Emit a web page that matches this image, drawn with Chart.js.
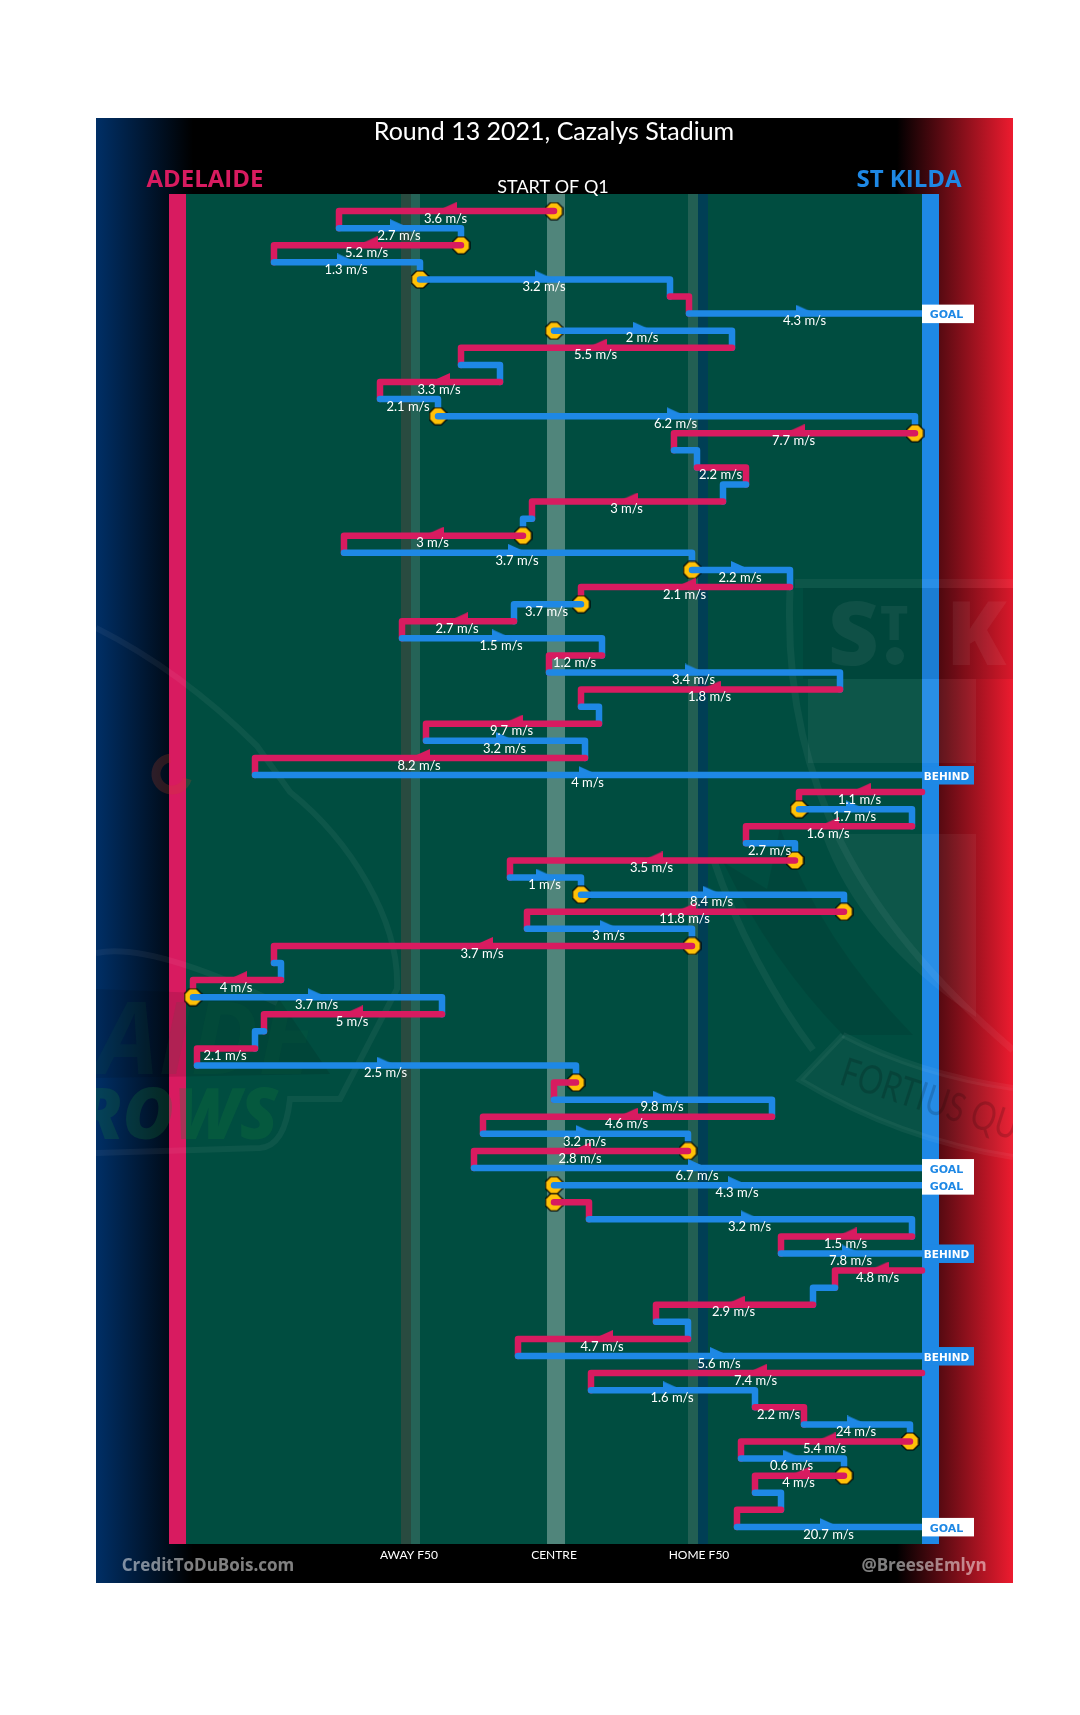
<!DOCTYPE html>
<html>
<head>
<meta charset="utf-8">
<title>Round 13 2021, Cazalys Stadium</title>
<script src="https://cdn.jsdelivr.net/npm/chart.js@4"></script>
<style>
  html, body { margin: 0; padding: 0; background: #fff; }
  canvas { display: block; }
</style>
</head>
<body>
<canvas id="chain" width="1080" height="1715"></canvas>
<script>
// one entry per row of the chain, top to bottom. x is field position, 0 = left edge of left goal bar
const rowTeam = ['A','S','A','S','S','A','S','S','A','S','A','S','S','A','S','A','S','A','S','A',
                 'S','S','A','S','A','S','A','S','A','S','A','S','A','S','A','S','A','S','A','S',
                 'S','A','S','A','S','A','S','A','S','A','S','A','S','A','S','A','S','S','A','S',
                 'A','S','A','S','A','S','A','S','A','S','A','S','A','S','A','S','A','S'];
const rowFrom = [385,170,292,105,251,501,520,385,563,292,331,211,269,746,505,528,577,554,363,354,
                 175,523,621,412,345,233,433,380,671,412,430,257,416, 86,753,630,743,577,626,341,
                 412,675,358,523,105,112, 24,273, 95, 86, 28,407,385,603,314,519,305,385,385,420,
                 743,612,753,666,644,487,519,349,753,422,586,635,741,572,675,586,612,568];
const rowTo   = [170,292,105,251,501,520,753,563,292,331,211,269,746,505,528,577,554,363,354,175,
                 523,621,412,345,233,433,380,671,412,430,257,416, 86,753,630,743,577,626,341,412,
                 675,358,523,105,112, 24,273, 95, 86, 28,407,385,603,314,519,305,753,753,420,743,
                 612,753,666,644,487,519,349,753,422,586,635,741,572,675,586,612,568,753];
const rowSpeed = [3.6,2.7,5.2,1.3,3.2,null,4.3,2,5.5,null,3.3,2.1,6.2,7.7,null,2.2,null,3,null,3,
                  3.7,2.2,2.1,3.7,2.7,1.5,1.2,3.4,1.8,null,9.7,3.2,8.2,4,1.1,1.7,1.6,2.7,3.5,1,
                  8.4,11.8,3,3.7,null,4,3.7,5,null,2.1,2.5,null,9.8,4.6,3.2,2.8,6.7,4.3,null,3.2,
                  1.5,7.8,4.8,null,2.9,null,4.7,5.6,7.4,1.6,2.2,24,5.4,0.6,4,null,null,20.7];

// rows that start from a stoppage (yellow marker)
const stoppageRows = [0,2,4,7,12,13,19,21,23,35,38,40,41,43,46,51,55,57,58,72,74];
// rows that end in a score, the chain does not link down from these
const goalRows   = [6,56,57,77];
const behindRows = [33,61,67];

const tickValues = [240,385,530];
const tickLabels = ['AWAY F50','CENTRE','HOME F50'];

const PINK = '#D81B60', BLUE = '#1E88E5', GREEN = '#004D40', YELLOW = '#FFC107';
const LABEL_FONT = '13px Lato';
const MIN_ARROW_RUN = 70;   // short runs get no arrow

const scoreRows = goalRows.concat(behindRows);
const teamColor = t => (t === 'A' ? PINK : BLUE);
const midOf = r => (rowFrom[r] + rowTo[r]) / 2;

// half triangle arrowhead, used as the point image
function makeArrow(color, toRight) {
    const c = document.createElement('canvas');
    c.width = 20; c.height = 18;
    const g = c.getContext('2d');
    g.fillStyle = color;
    g.beginPath();
    if (toRight) { g.moveTo(0, 0); g.lineTo(20, 9); g.lineTo(0, 12); }
    else         { g.moveTo(20, 0); g.lineTo(0, 9); g.lineTo(20, 12); }
    g.closePath();
    g.fill();
    return c;
}

// stoppage marker is a small octagon in the original
function makeStoppage() {
    const c = document.createElement('canvas');
    c.width = 19; c.height = 19;
    const g = c.getContext('2d');
    const p = [[6,1],[13,1],[18,6],[18,13],[13,18],[6,18],[1,13],[1,6]];
    g.beginPath();
    p.forEach(([a, b], i) => (i ? g.lineTo(a, b) : g.moveTo(a, b)));
    g.closePath();
    g.fillStyle = YELLOW;
    g.fill();
    g.strokeStyle = '#000';
    g.lineWidth = 1.2;
    g.stroke();
    return c;
}
const stoppageImage = makeStoppage();

// ─── datasets ───
// lower order is painted later: line r-1, then marker r, then line r
const datasets = [];
rowTeam.forEach((team, r) => {
    const pts = [{ x: rowFrom[r], y: r }, { x: rowTo[r], y: r }];
    if (!scoreRows.includes(r) && r < rowTeam.length - 1) pts.push({ x: rowTo[r], y: r + 1 });
    datasets.push({
        data: pts,
        showLine: true,
        borderColor: teamColor(team),
        borderWidth: 6.5,
        borderCapStyle: 'round',
        borderJoinStyle: 'round',
        pointRadius: 0,
        clip: false,
        order: -2 * r
    });
});
stoppageRows.forEach(r => {
    datasets.push({
        data: [{ x: rowFrom[r], y: r }],
        pointStyle: stoppageImage,
        clip: false,
        order: -2 * r + 1
    });
});
// arrowheads sit on top of all lines, one dataset per image
[[PINK, false], [PINK, true], [BLUE, false], [BLUE, true]].forEach(([color, toRight]) => {
    const rows = rowTeam.map((t, r) => r).filter(r =>
        rowSpeed[r] !== null &&
        Math.abs(rowTo[r] - rowFrom[r]) >= MIN_ARROW_RUN &&
        teamColor(rowTeam[r]) === color &&
        (rowTo[r] > rowFrom[r]) === toRight);
    datasets.push({
        data: rows.map(r => ({ x: midOf(r), y: r })),
        pointStyle: makeArrow(color, toRight),
        clip: false,
        order: -1000
    });
});

// ─── faint club logos behind the chain ───
function drawStKildaLogo(ctx) {
    ctx.save();
    ctx.beginPath(); ctx.rect(96, 118, 917, 1465); ctx.clip();
    const lite = 'rgba(255,255,255,0.05)', dark = 'rgba(0,0,0,0.08)';
    ctx.fillStyle = lite;
    ctx.fillRect(795, 579, 218, 9);
    ctx.fillStyle = dark;
    ctx.fillRect(803, 588, 210, 91);
    ctx.fillStyle = lite;
    ctx.fillRect(808, 679, 168, 84);
    ctx.font = '800 88px "Open Sans"';
    ctx.textAlign = 'left';
    ctx.textBaseline = 'alphabetic';
    ctx.fillStyle = 'rgba(255,255,255,0.06)';
    ctx.fillText('S', 828, 665);
    ctx.fillText('K', 946, 665);
    ctx.font = '800 48px "Open Sans"';
    ctx.fillText('T', 880, 640);
    ctx.beginPath(); ctx.arc(895, 656, 9, 0, Math.PI * 2); ctx.fill();
    // lower panel, cut by the crest edge
    ctx.fillStyle = lite;
    ctx.beginPath();
    ctx.moveTo(822, 834); ctx.lineTo(976, 834); ctx.lineTo(976, 1017);
    ctx.quadraticCurveTo(860, 940, 822, 834);
    ctx.closePath(); ctx.fill();
    // crest bands
    ctx.strokeStyle = lite; ctx.lineWidth = 7;
    ctx.beginPath();
    ctx.moveTo(790, 590);
    ctx.bezierCurveTo(782, 780, 860, 920, 1013, 1050);
    ctx.stroke();
    ctx.beginPath();
    ctx.moveTo(713, 858);
    ctx.bezierCurveTo(735, 925, 775, 1000, 813, 1050);
    ctx.stroke();
    // dark sash
    ctx.fillStyle = dark;
    ctx.beginPath();
    ctx.moveTo(723, 862); ctx.lineTo(767, 889); ctx.lineTo(780, 828);
    ctx.quadraticCurveTo(820, 940, 913, 1035); ctx.lineTo(843, 1035);
    ctx.quadraticCurveTo(770, 960, 723, 862);
    ctx.closePath(); ctx.fill();
    // banner
    ctx.strokeStyle = lite; ctx.lineWidth = 6;
    ctx.beginPath();
    ctx.moveTo(843, 1035); ctx.lineTo(800, 1080);
    ctx.quadraticCurveTo(900, 1140, 1013, 1157);
    ctx.stroke();
    ctx.beginPath();
    ctx.moveTo(843, 1035); ctx.quadraticCurveTo(920, 1075, 1013, 1088);
    ctx.stroke();
    ctx.fillStyle = 'rgba(255,255,255,0.03)';
    ctx.beginPath();
    ctx.moveTo(843, 1035); ctx.lineTo(800, 1080);
    ctx.quadraticCurveTo(900, 1140, 1013, 1157); ctx.lineTo(1013, 1088);
    ctx.quadraticCurveTo(920, 1075, 843, 1035);
    ctx.closePath(); ctx.fill();
    ctx.save();
    ctx.translate(838, 1084);
    ctx.rotate(0.31);
    ctx.scale(0.78, 1);
    ctx.fillStyle = 'rgba(0,0,0,0.16)';
    ctx.font = '40px Lato';
    ctx.textAlign = 'left';
    ctx.fillText('FORTIUS QUO', 0, 0);
    ctx.restore();
    ctx.restore();
}

function drawCrowsLogo(ctx) {
    ctx.save();
    ctx.beginPath(); ctx.rect(96, 118, 917, 1465); ctx.clip();
    // lettering
    ctx.fillStyle = 'rgba(0,0,0,0.10)';
    ctx.beginPath();
    ctx.moveTo(96, 989); ctx.lineTo(277, 996); ctx.lineTo(330, 1074); ctx.lineTo(96, 1078);
    ctx.closePath(); ctx.fill();
    ctx.font = 'italic bold 100px "Open Sans"';
    ctx.textBaseline = 'alphabetic';
    ctx.textAlign = 'left';
    ctx.fillStyle = 'rgba(20,120,60,0.10)';
    ctx.fillText('AIDE', 96, 1074);
    ctx.font = 'italic 800 70px "Open Sans"';
    ctx.fillStyle = 'rgba(20,130,60,0.24)';
    ctx.textAlign = 'right';
    ctx.fillText('ROWS', 278, 1139);
    // outline
    ctx.strokeStyle = 'rgba(255,255,255,0.05)';
    ctx.lineWidth = 6;
    ctx.beginPath();
    ctx.moveTo(96, 628);
    ctx.quadraticCurveTo(180, 670, 257, 746);
    ctx.lineTo(290, 792);
    ctx.bezierCurveTo(350, 840, 400, 920, 397, 989);
    ctx.lineTo(340, 1099);
    ctx.lineTo(290, 1099);
    ctx.quadraticCurveTo(285, 1146, 260, 1148);
    ctx.lineTo(96, 1153);
    ctx.stroke();
    ctx.beginPath();
    ctx.moveTo(96, 953);
    ctx.quadraticCurveTo(150, 942, 277, 1003);
    ctx.stroke();
    // eye
    ctx.strokeStyle = 'rgba(200,70,40,0.22)';
    ctx.lineWidth = 9;
    ctx.beginPath(); ctx.arc(172, 774, 16, 0.3, 4.6); ctx.stroke();
    ctx.restore();
}

// ─── panel, bands, texts ───
const framePlugin = {
    id: 'frame',
    beforeDraw(chart) {
        const { ctx, chartArea: a, scales: { x } } = chart;
        ctx.save();
        ctx.fillStyle = '#000';
        ctx.fillRect(96, 118, 917, 1465);
        let g = ctx.createLinearGradient(96, 0, 193, 0);
        g.addColorStop(0, '#002F66'); g.addColorStop(1, 'rgba(0,0,0,1)');
        ctx.fillStyle = g; ctx.fillRect(96, 118, 97, 1465);
        g = ctx.createLinearGradient(897, 0, 1013, 0);
        g.addColorStop(0, '#000'); g.addColorStop(1, '#ED1B2F');
        ctx.fillStyle = g; ctx.fillRect(897, 118, 116, 1465);

        const band = (from, to, color) => {
            const l = x.getPixelForValue(from);
            ctx.fillStyle = color;
            ctx.fillRect(l, a.top, x.getPixelForValue(to) - l, a.bottom - a.top);
        };
        band(17, 753, GREEN);
        band(232, 242, '#294B40');
        band(242, 251, '#256357');
        band(378, 396, '#50857B');
        band(519, 529, '#225F53');
        band(529, 539, '#003F55');
        band(0, 17, PINK);
        band(753, 770, BLUE);

        drawCrowsLogo(ctx);
        drawStKildaLogo(ctx);

        ctx.textBaseline = 'alphabetic';
        ctx.textAlign = 'center';
        ctx.fillStyle = '#fff';
        ctx.font = '25px Lato';
        ctx.fillText('Round 13 2021, Cazalys Stadium', 554, 140);
        ctx.font = '18px Lato';
        ctx.fillText('START OF Q1', 553, 193);
        ctx.font = 'bold 24px "Open Sans"';
        ctx.fillStyle = PINK;
        ctx.fillText('ADELAIDE', 205, 187);
        ctx.fillStyle = BLUE;
        ctx.fillText('ST KILDA', 909, 187);
        ctx.font = 'bold 17px "Open Sans"';
        ctx.fillStyle = 'rgba(255,255,255,0.5)';
        ctx.fillText('CreditToDuBois.com', 208, 1571);
        ctx.fillText('@BreeseEmlyn', 924, 1571);
        ctx.restore();
    },
    afterDatasetsDraw(chart) {
        const { ctx, scales: { x, y } } = chart;
        ctx.save();
        // score boxes hang off the right goal bar
        const box = (r, fill, ink, text, size) => {
            const left = x.getPixelForValue(753), right = x.getPixelForValue(805);
            const cy = y.getPixelForValue(r);
            ctx.fillStyle = fill;
            ctx.fillRect(left, cy - 9, right - left, 18.5);
            ctx.fillStyle = ink;
            ctx.font = `bold ${size}px "DejaVu Sans"`;
            ctx.textAlign = 'center';
            ctx.textBaseline = 'middle';
            ctx.fillText(text, (left + right) / 2 - 1.5, cy + 2);
        };
        goalRows.forEach(r => box(r, '#fff', BLUE, 'GOAL', 11));
        behindRows.forEach(r => box(r, BLUE, '#fff', 'BEHIND', 10.5));

        // speed labels under the middle of each run
        ctx.font = LABEL_FONT;
        ctx.fillStyle = '#fff';
        ctx.textAlign = 'center';
        ctx.textBaseline = 'middle';
        rowSpeed.forEach((s, r) => {
            if (s === null) return;
            ctx.fillText(s + ' m/s', x.getPixelForValue(midOf(r)) - 1, y.getPixelForValue(r) + 7.5);
        });
        ctx.restore();
    }
};

new Chart(document.getElementById('chain').getContext('2d'), {
    type: 'scatter',
    data: { datasets },
    options: {
        responsive: false,
        animation: false,
        devicePixelRatio: 1,
        layout: { padding: { left: 169, right: 141, top: 194, bottom: 0 } },
        plugins: { legend: { display: false }, tooltip: { enabled: false }, title: { display: false } },
        scales: {
            x: {
                type: 'linear',
                min: 0,
                max: 770,
                grid: { display: false, drawTicks: false },
                border: { display: false },
                afterFit: s => { s.height = 171; },
                afterBuildTicks: s => { s.ticks = tickValues.map(v => ({ value: v })); },
                ticks: {
                    autoSkip: false,
                    maxRotation: 0,
                    padding: 4,
                    color: '#fff',
                    font: { family: 'Lato', size: 12 },
                    callback: v => tickLabels[tickValues.indexOf(v)]
                }
            },
            y: {
                type: 'linear',
                reverse: true,
                min: -1,
                max: 78,
                display: false
            }
        }
    },
    plugins: [framePlugin]
});
</script>
</body>
</html>
